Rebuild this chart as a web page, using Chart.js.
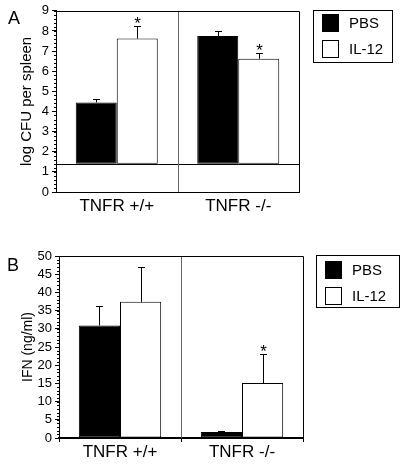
<!DOCTYPE html>
<html>
<head>
<meta charset="utf-8">
<script src="https://cdn.jsdelivr.net/npm/chart.js@4.4.1/dist/chart.umd.min.js"></script>
<style>
  html, body { margin: 0; padding: 0; background: #fff; }
  body { width: 400px; height: 465px; position: relative; overflow: hidden; font-family: "Liberation Sans", Arial, sans-serif; }
  .wrap { position: absolute; left: 0; width: 400px; }
  .panel { position: absolute; font-size: 18px; color: #000; line-height: 1; }
</style>
</head>
<body>
<div class="wrap" style="top:0;height:232px;"><canvas id="chartA" width="400" height="232"></canvas></div>
<div class="wrap" style="top:232px;height:233px;"><canvas id="chartB" width="400" height="233"></canvas></div>
<div class="panel" style="left:8px;top:9px;">A</div>
<div class="panel" style="left:7px;top:256px;">B</div>
<script>
// ---------- DATA ----------
const categories = ["TNFR +/+", "TNFR -/-"];
const seriesLabels = ["PBS", "IL-12"];

// Panel A: log CFU per spleen (bars start at detection limit)
const detectionLimitA = 1.4;
const pbsA = [4.45, 7.75];
const pbsErrA = [0.17, 0.27];
const il12A = [7.62, 6.62];
const il12ErrA = [0.62, 0.30];
const il12StarA = [true, true];
const pbsStarA = [false, false];
const yTicksA = { min: 0, max: 9, step: 1, minor: 0.2 };

// Panel B: IFN (ng/ml)
const pbsB = [30.9, 1.65];
const pbsErrB = [5.5, 0.35];
const il12B = [37.4, 15.1];
const il12ErrB = [9.6, 8.0];
const il12StarB = [false, true];
const pbsStarB = [false, false];
const yTicksB = { min: 0, max: 50, step: 5, minor: 1 };

// ---------- PLUGIN ----------
const decor = {
  id: 'decor',
  afterDatasetsDraw(chart, args, opts) {
    const ctx = chart.ctx;
    const ca = chart.chartArea;
    const x = chart.scales.x, y = chart.scales.y;
    ctx.save();
    // minor y ticks
    ctx.strokeStyle = '#000';
    ctx.lineWidth = 1;
    const n = Math.round((opts.max - opts.min) / opts.minor);
    for (let i = 0; i <= n; i++) {
      const v = opts.min + i * opts.minor;
      const py = Math.round(y.getPixelForValue(v)) + 0.5;
      ctx.beginPath();
      ctx.moveTo(ca.left - 2, py);
      ctx.lineTo(ca.left, py);
      ctx.stroke();
    }
    // baseline (detection limit)
    if (opts.baseline !== undefined) {
      const py = Math.round(y.getPixelForValue(opts.baseline)) + 0.5;
      ctx.beginPath();
      ctx.moveTo(ca.left, py);
      ctx.lineTo(ca.right, py);
      ctx.stroke();
    }
    // divider between categories
    ctx.strokeStyle = '#666';
    const mid = Math.round((x.getPixelForValue(0) + x.getPixelForValue(1)) / 2) + 0.5;
    ctx.beginPath();
    ctx.moveTo(mid, ca.top);
    ctx.lineTo(mid, ca.bottom);
    ctx.stroke();
    // box top & right
    ctx.strokeStyle = '#000';
    ctx.beginPath();
    ctx.moveTo(ca.left, Math.round(ca.top) + 0.5);
    ctx.lineTo(Math.round(ca.right) + 0.5, Math.round(ca.top) + 0.5);
    ctx.lineTo(Math.round(ca.right) + 0.5, ca.bottom);
    ctx.stroke();
    // error bars and stars
    chart.data.datasets.forEach((ds, di) => {
      const meta = chart.getDatasetMeta(di);
      meta.data.forEach((el, i) => {
        const raw = ds.data[i];
        const val = Array.isArray(raw) ? raw[1] : raw;
        const err = ds.errors[i];
        const top = y.getPixelForValue(val);
        const et = y.getPixelForValue(val + err);
        const cx = Math.round(el.x) + 0.5;
        ctx.strokeStyle = '#000';
        ctx.lineWidth = 1;
        ctx.beginPath();
        ctx.moveTo(cx, top);
        ctx.lineTo(cx, Math.round(et) + 0.5);
        ctx.moveTo(cx - 3.5, Math.round(et) + 0.5);
        ctx.lineTo(cx + 3.5, Math.round(et) + 0.5);
        ctx.stroke();
        if (ds.stars[i]) {
          ctx.fillStyle = '#000';
          ctx.font = '17px "Liberation Sans", Arial, sans-serif';
          ctx.textAlign = 'center';
          ctx.textBaseline = 'alphabetic';
          ctx.fillText('*', cx, et + 3);
        }
      });
    });
    // legend with frame
    const lx = ca.right + opts.legendGap, ly = ca.top - 1;
    const lw = opts.legendW, lh = 52;
    ctx.strokeStyle = '#000';
    ctx.lineWidth = 1;
    ctx.strokeRect(Math.round(lx) + 0.5, Math.round(ly) + 0.5, lw, lh);
    chart.data.datasets.forEach((ds, di) => {
      const sy = Math.round(ly) + opts.swTop + di * 26;
      const sx = Math.round(lx) + 9;
      ctx.fillStyle = ds.backgroundColor;
      ctx.fillRect(sx, sy, 17, 18);
      ctx.strokeStyle = '#000';
      ctx.strokeRect(sx + 0.5, sy + 0.5, 16, 17);
      ctx.fillStyle = '#000';
      ctx.font = '15px "Liberation Sans", Arial, sans-serif';
      ctx.textAlign = 'left';
      ctx.textBaseline = 'middle';
      ctx.fillText(ds.label, sx + 27, sy + 9.5);
    });
    ctx.restore();
  }
};

function makeChart(id, pbs, pbsErr, pbsStar, il12, il12Err, il12Star, t, cfg) {
  const wrap = v => cfg.baseline !== undefined ? v.map(a => [cfg.baseline, a]) : v;
  return new Chart(document.getElementById(id), {
    type: 'bar',
    data: {
      labels: categories,
      datasets: [
        { label: seriesLabels[0], data: wrap(pbs), errors: pbsErr, stars: pbsStar,
          backgroundColor: '#000', borderColor: '#000', borderWidth: 1, borderSkipped: false },
        { label: seriesLabels[1], data: wrap(il12), errors: il12Err, stars: il12Star,
          backgroundColor: '#fff', borderColor: '#000', borderWidth: 1, borderSkipped: false }
      ]
    },
    options: {
      responsive: false,
      animation: false,
      events: [],
      layout: { padding: { top: cfg.top, right: cfg.right, left: 0, bottom: 0 } },
      datasets: { bar: { barPercentage: 1, categoryPercentage: 0.675 } },
      plugins: {
        legend: { display: false },
        tooltip: { enabled: false },
        decor: { min: t.min, max: t.max, minor: t.minor, baseline: cfg.baseline,
                 legendGap: cfg.legendGap, legendW: cfg.legendW, swTop: cfg.swTop }
      },
      scales: {
        x: {
          offset: true,
          grid: { display: true, offset: true, drawOnChartArea: false, tickLength: cfg.xTick, color: '#000' },
          border: { display: true, color: '#000', width: cfg.xBorder },
          ticks: { color: '#000', padding: cfg.xPad, font: { family: '"Liberation Sans", Arial, sans-serif', size: 17 } },
          afterFit: s => { s.height = cfg.xH; }
        },
        y: {
          min: t.min, max: t.max,
          grid: { drawOnChartArea: false, tickLength: 4, color: '#000' },
          border: { display: true, color: '#000', width: 1 },
          ticks: { stepSize: t.step, autoSkip: false, color: '#000', padding: 3, font: { family: '"Liberation Sans", Arial, sans-serif', size: 13 } },
          title: { display: true, text: cfg.yTitle, color: '#000', padding: { top: cfg.titlePad, bottom: 0 },
                   font: { family: '"Liberation Sans", Arial, sans-serif', size: cfg.titleSize } },
          afterFit: s => { s.width = cfg.yW; }
        }
      }
    },
    plugins: [decor]
  });
}

makeChart('chartA', pbsA, pbsErrA, pbsStarA, il12A, il12ErrA, il12StarA, yTicksA,
  { baseline: detectionLimitA, top: 10, right: 101, xH: 40, yW: 56, xTick: 0, xPad: 4, xBorder: 1,
    yTitle: 'log CFU per spleen', titleSize: 15, titlePad: 18, legendGap: 14, legendW: 79, swTop: 4 });

makeChart('chartB', pbsB, pbsErrB, pbsStarB, il12B, il12ErrB, il12StarB, yTicksB,
  { top: 24, right: 97, xH: 27, yW: 59, xTick: 4, xPad: 0, xBorder: 2,
    yTitle: 'IFN (ng/ml)', titleSize: 14, titlePad: 20, legendGap: 13, legendW: 83, swTop: 6 });
</script>
</body>
</html>
